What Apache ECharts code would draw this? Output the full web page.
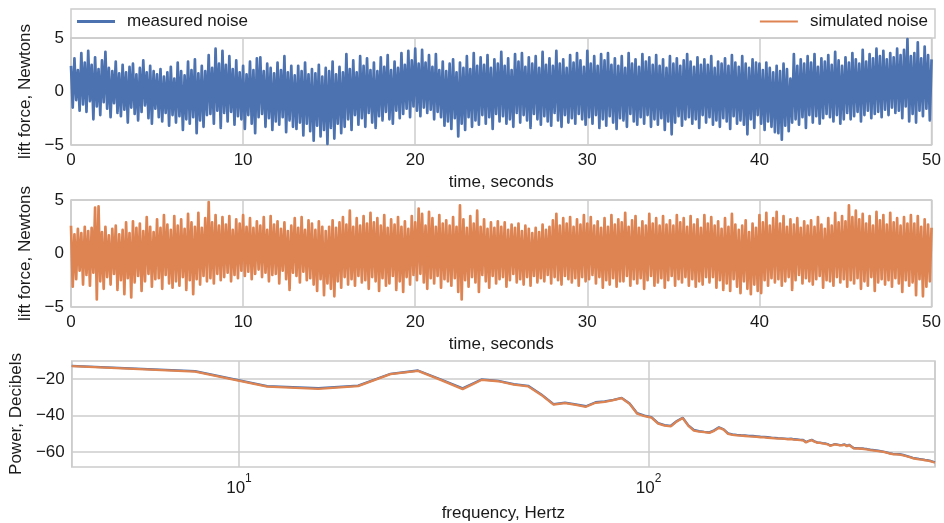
<!DOCTYPE html>
<html>
<head>
<meta charset="utf-8">
<script src="https://cdn.jsdelivr.net/npm/echarts@6/dist/echarts.min.js"></script>
<style>html,body{margin:0;padding:0;background:#fff}#c{width:944px;height:523px}</style>
</head>
<body>
<div id="c"></div>
<script>
// ---- data ----
const noiseStep = 0.1; // seconds between the values below
const measuredNoise = [
2.4,-1.5,3.1,-0.8,2.0,-1.8,3.6,-1.2,2.7,-1.9,
3.8,-0.9,2.5,-2.6,3.2,-1.4,2.1,-2.2,2.9,-1.0,
3.7,-1.6,2.2,-2.4,1.9,-1.1,2.8,-2.0,1.7,-2.3,
2.5,-1.7,1.8,-2.9,2.3,-1.5,2.6,-2.1,1.6,-2.7,
2.2,-1.9,2.9,-1.3,1.8,-2.5,2.4,-3.0,1.9,-1.6,
1.6,-2.4,2.1,-2.8,1.4,-2.0,1.8,-3.2,2.3,-2.2,
1.2,-2.9,2.7,-2.3,1.9,-3.6,1.5,-2.6,2.8,-3.0,
2.0,-2.4,3.0,-3.9,1.7,-2.7,2.4,-3.3,1.9,-2.2,
3.4,-2.1,2.2,-3.0,4.0,-1.8,2.6,-3.4,3.8,-2.0,
2.5,-2.8,3.3,-1.9,2.1,-3.1,2.9,-2.3,1.8,-2.6,
2.4,-3.5,1.6,-2.2,2.8,-3.0,2.0,-3.9,3.1,-2.4,
3.2,-2.1,1.9,-3.3,2.6,-2.5,2.2,-3.6,1.7,-2.8,
2.7,-3.1,2.0,-2.4,3.3,-3.8,1.8,-2.7,2.4,-3.3,
1.5,-3.5,2.4,-2.9,1.9,-4.1,2.7,-3.0,1.6,-3.7,
2.1,-4.6,1.7,-3.2,2.5,-4.2,1.4,-3.6,2.2,-4.9,
1.9,-3.4,2.8,-4.4,1.6,-3.0,2.3,-3.9,1.8,-3.3,
3.5,-2.6,2.1,-3.6,2.9,-2.2,1.8,-3.1,3.3,-2.5,
2.4,-3.3,3.1,-2.0,2.0,-2.9,2.7,-3.4,1.9,-2.3,
3.2,-2.7,2.3,-1.9,3.4,-2.6,2.0,-3.0,2.8,-1.8,
2.2,-2.5,3.6,-2.1,2.5,-1.6,3.8,-2.4,2.9,-1.4,
4.0,-1.8,2.6,-2.3,3.9,-1.5,2.7,-2.0,3.4,-1.7,
2.3,-2.6,3.5,-1.9,2.0,-2.4,2.8,-3.2,1.9,-2.8,
2.6,-3.5,3.0,-2.5,1.8,-4.2,2.7,-3.0,2.2,-3.6,
3.3,-2.4,2.1,-3.3,3.6,-2.7,2.4,-3.1,3.2,-2.2,
2.5,-3.0,3.4,-2.4,2.2,-3.5,3.0,-2.1,2.6,-2.8,
3.7,-2.3,2.4,-3.0,3.1,-2.6,2.0,-3.3,3.5,-2.0,
2.8,-2.9,3.6,-2.2,2.3,-2.7,3.2,-3.4,2.6,-2.1,
3.3,-2.6,2.2,-3.1,3.7,-2.3,2.5,-2.8,3.1,-3.2,
2.4,-2.0,3.8,-2.7,2.6,-3.3,3.0,-2.2,2.2,-2.9,
3.4,-2.5,2.7,-3.0,3.6,-2.1,2.9,-2.6,2.3,-3.1,
3.8,-2.4,2.6,-3.0,3.3,-2.2,2.4,-3.4,3.5,-2.6,
2.9,-3.2,3.6,-2.3,2.5,-2.9,3.1,-3.5,2.4,-2.5,
3.3,-2.7,2.2,-3.3,3.6,-2.1,2.6,-2.8,3.0,-3.1,
2.3,-2.4,3.5,-3.0,2.8,-2.2,3.2,-3.3,2.5,-2.6,
3.4,-3.1,2.4,-2.5,3.0,-3.6,2.2,-2.8,3.3,-4.0,
2.6,-2.9,3.1,-2.3,2.4,-3.2,2.9,-2.6,3.5,-2.4,
2.8,-3.0,2.3,-2.6,3.2,-3.4,2.5,-2.2,3.0,-2.9,
2.5,-2.4,3.3,-3.1,2.2,-2.7,2.8,-3.3,2.6,-2.5,
3.1,-2.8,2.4,-3.5,3.4,-2.3,2.7,-3.0,2.3,-2.7,
3.3,-3.1,2.6,-4.0,2.2,-2.6,3.0,-3.4,2.7,-2.2,
2.6,-3.0,2.0,-3.6,2.7,-2.8,2.2,-3.3,1.8,-3.8,
2.4,-3.9,1.9,-4.5,2.6,-3.2,2.1,-3.7,1.2,-2.9,
3.5,-2.6,2.4,-3.1,3.0,-2.4,2.6,-3.4,3.3,-2.2,
2.7,-2.9,3.5,-2.3,2.3,-3.0,3.1,-2.5,2.8,-2.1,
3.4,-2.4,2.5,-2.8,3.7,-2.2,2.9,-3.0,2.4,-2.6,
3.2,-2.0,2.7,-2.6,3.6,-2.3,3.0,-1.9,2.6,-2.8,
3.9,-2.2,2.8,-1.8,3.5,-2.5,3.1,-2.1,4.0,-1.9,
3.3,-2.4,3.8,-1.7,3.0,-2.2,3.6,-1.5,3.2,-2.0,
4.0,-1.8,3.4,-2.5,3.9,-1.4,4.9,-2.8,3.3,-2.1,
3.6,-2.9,4.6,-1.8,3.1,-2.3,4.2,-1.6,3.4,-2.7,
3.0
];
const simulatedNoise = [
2.6,-3.1,1.8,-2.4,2.3,-1.6,1.9,-2.9,2.5,-2.0,
2.1,-3.0,2.4,-1.8,4.3,-4.3,4.4,-2.6,2.0,-3.3,
2.5,-2.2,1.7,-2.9,2.3,-1.9,2.6,-3.4,1.8,-2.5,
2.2,-3.8,2.9,-2.3,1.9,-4.1,3.0,-2.7,2.4,-2.1,
2.8,-3.5,2.1,-2.6,3.4,-1.9,2.5,-3.1,2.0,-2.4,
3.2,-2.3,2.4,-3.3,3.6,-2.0,2.7,-2.8,2.2,-3.2,
3.5,-2.6,2.6,-3.0,3.2,-2.2,2.3,-3.4,3.7,-2.5,
2.9,-3.8,2.5,-2.4,3.8,-2.9,2.4,-2.1,3.3,-2.6,
4.8,-2.3,2.9,-2.8,3.6,-1.9,2.6,-2.5,3.4,-2.2,
2.7,-1.8,3.5,-2.6,2.2,-2.0,3.2,-2.3,2.8,-1.6,
3.6,-2.1,2.5,-1.7,3.3,-2.4,2.4,-1.9,3.0,-1.5,
2.6,-2.2,3.4,-1.8,2.2,-2.6,3.5,-2.0,2.7,-1.9,
3.0,-2.8,2.3,-1.6,2.9,-2.4,2.1,-3.4,2.6,-1.8,
3.3,-2.1,2.4,-2.7,3.4,-1.7,2.2,-2.5,3.1,-2.3,
2.8,-2.9,2.2,-3.5,3.0,-2.4,2.5,-3.9,2.1,-2.8,
2.5,-3.3,3.1,-4.0,2.4,-2.6,2.9,-3.2,3.4,-2.2,
2.7,-2.9,4.0,-2.4,2.5,-3.0,3.3,-2.1,2.6,-2.7,
3.5,-2.5,2.8,-3.3,3.8,-2.2,2.9,-2.6,3.3,-3.5,
2.6,-2.3,3.6,-3.0,2.4,-2.8,3.2,-2.1,2.7,-3.4,
3.4,-2.6,2.5,-3.6,3.0,-2.2,2.3,-2.9,3.5,-2.0,
2.9,-2.5,4.2,-1.9,3.7,-2.7,2.6,-3.3,3.9,-2.3,
3.3,-2.8,2.5,-2.1,3.6,-3.2,2.8,-2.4,3.1,-2.6,
2.6,-3.0,3.4,-2.3,2.5,-3.6,4.5,-4.3,3.2,-2.5,
2.4,-3.1,3.5,-2.2,2.8,-2.7,4.0,-3.6,2.5,-2.0,
3.2,-2.6,2.3,-3.2,2.9,-2.1,2.4,-2.8,3.0,-2.4,
2.5,-2.2,2.9,-3.1,2.2,-2.5,2.7,-1.9,2.4,-2.7,
2.8,-2.4,2.1,-2.9,2.6,-2.2,2.3,-3.0,1.9,-2.1,
2.4,-2.7,2.0,-2.3,2.7,-2.6,2.2,-2.0,2.5,-2.8,
3.1,-2.2,3.7,-2.5,2.6,-2.9,3.3,-2.1,2.8,-2.4,
3.4,-2.7,2.5,-2.3,3.2,-3.0,2.7,-2.2,3.6,-2.6,
2.8,-2.4,3.4,-2.0,2.6,-2.8,3.0,-2.2,2.4,-3.2,
3.3,-2.5,2.5,-2.9,3.6,-2.3,2.7,-3.1,3.2,-2.6,
2.9,-2.6,3.8,-2.1,2.5,-3.0,3.1,-2.4,3.5,-2.8,
2.4,-2.3,3.0,-3.3,2.6,-2.5,3.7,-2.1,2.8,-3.0,
3.3,-2.7,2.6,-2.3,3.5,-3.2,2.7,-2.5,3.1,-2.1,
2.6,-3.0,3.6,-2.4,2.9,-2.7,3.3,-2.2,2.5,-3.0,
3.5,-2.4,2.7,-3.1,3.2,-2.6,2.4,-2.9,3.6,-2.2,
2.8,-2.7,3.4,-2.2,2.6,-3.2,3.0,-2.5,2.3,-3.4,
3.3,-2.8,2.5,-3.5,3.7,-2.4,2.7,-3.1,2.2,-3.7,
2.6,-2.6,3.1,-3.3,2.0,-3.8,2.8,-2.9,2.4,-3.5,
3.6,-3.7,2.9,-2.5,3.8,-3.0,2.6,-2.3,3.3,-2.7,
3.9,-2.4,2.8,-3.0,3.5,-2.6,2.5,-2.2,3.2,-3.4,
2.7,-2.5,3.3,-2.0,2.4,-2.8,3.0,-2.3,2.6,-2.6,
3.1,-2.9,2.5,-2.4,3.4,-2.1,2.7,-3.2,2.3,-2.5,
3.3,-2.6,2.6,-3.0,3.8,-2.2,2.9,-2.7,3.5,-2.4,
3.0,-3.1,4.5,-2.5,3.4,-2.8,4.0,-2.3,3.2,-3.3,
3.7,-2.6,2.8,-3.0,3.5,-2.2,2.6,-3.5,3.9,-2.7,
3.1,-2.4,3.6,-2.9,2.7,-2.5,3.8,-3.1,2.9,-2.3,
3.3,-2.8,2.6,-3.6,3.4,-2.5,2.8,-3.0,3.6,-2.7,
2.8,-3.9,3.5,-2.4,2.5,-4.0,3.2,-3.1,2.7,-2.6,
2.4
];
const binWidth = 3.90625; // Hz between spectrum bins (first bin at binWidth)
const measuredPower = [
-12.9,-15.8,-24.0,-25.1,-23.7,-17.2,-15.4,-20.5,-25.2,-20.3,
-21.1,-22.9,-23.8,-28.5,-33.8,-33.0,-34.0,-35.0,-32.8,-32.3,
-31.5,-30.4,-33.5,-38.8,-40.1,-41.0,-44.2,-45.3,-45.7,-43.1,
-41.3,-45.5,-48.0,-48.6,-49.0,-49.3,-48.2,-46.5,-47.6,-49.9,
-50.4,-50.7,-50.9,-51.0,-51.2,-51.3,-51.5,-51.7,-51.8,-52.0,
-52.2,-52.3,-52.5,-52.6,-52.7,-52.9,-52.8,-53.1,-53.2,-53.4,
-53.5,-54.6,-53.9,-53.4,-54.2,-54.8,-54.9,-55.2,-55.4,-55.7,
-56.5,-56.1,-55.7,-56.0,-56.3,-56.2,-55.9,-56.7,-56.1,-57.0,
-57.9,-58.0,-57.9,-58.1,-58.1,-58.3,-58.4,-58.6,-58.8,-59.0,
-59.1,-59.3,-59.4,-59.5,-59.7,-59.9,-60.1,-60.3,-60.7,-61.2,
-61.1,-61.5,-61.2,-61.0,-61.3,-61.5,-61.7,-61.9,-62.2,-62.4,
-62.7,-63.0,-63.3,-63.4,-63.6,-63.7,-63.9,-64.0,-64.1,-64.2,
-64.4,-64.5,-64.6,-64.8,-65.0,-65.2,-65.5,-65.7
];
const simulatedPower = [
-13.0,-16.0,-24.3,-25.5,-24.0,-17.4,-15.6,-20.8,-25.6,-20.6,
-21.3,-23.2,-24.1,-28.8,-34.1,-33.3,-34.2,-35.3,-33.1,-32.6,
-31.7,-30.6,-33.7,-39.1,-40.4,-41.3,-44.5,-45.6,-46.0,-43.3,
-41.5,-45.8,-48.3,-48.9,-49.2,-49.6,-48.5,-46.8,-47.8,-50.2,
-50.7,-51.0,-51.1,-51.3,-51.5,-51.6,-51.8,-52.0,-52.1,-52.3,
-52.4,-52.6,-52.7,-52.8,-52.9,-53.1,-53.0,-53.3,-53.4,-53.6,
-53.7,-54.9,-54.1,-53.6,-54.4,-55.0,-55.1,-55.4,-55.6,-55.9,
-56.7,-56.3,-55.9,-56.2,-56.5,-56.4,-56.1,-56.9,-56.3,-57.2,
-58.1,-58.2,-58.1,-58.3,-58.3,-58.5,-58.6,-58.8,-59.0,-59.2,
-59.3,-59.5,-59.6,-59.7,-59.9,-60.1,-60.3,-60.5,-60.9,-61.4,
-61.3,-61.7,-61.4,-61.2,-61.5,-61.7,-61.9,-62.1,-62.4,-62.6,
-62.9,-63.2,-63.5,-63.6,-63.8,-63.9,-64.1,-64.2,-64.3,-64.4,
-64.6,-64.7,-64.8,-65.0,-65.2,-65.4,-65.7,-65.9
];
const timeRange = [0, 50];
const timeTickStep = 10;
const forceRange = [-5, 5];
const forceTickStep = 5;
const powerRange = [-68.3, -10.2];
const powerTicks = [-60, -40, -20];
const seriesNames = ['measured noise', 'simulated noise'];

// ---- styling ----
const FONT = "'Liberation Sans', Arial, Helvetica, sans-serif";
const TXT = '#1a1a1a';
const GRIDC = '#cccccc';
const BLUE = '#4c72b0';
const ORANGE = '#dd8452';
const minus = v => String(v).replace('-', '\u2212');

const noisePairs = arr => arr.map((v, i) => [+(i * noiseStep).toFixed(2), v]);
const powerPairs = arr => arr.map((v, i) => [(i + 1) * binWidth, v]);

const gridBase = {left: 71, right: 9, show: true, borderColor: GRIDC, borderWidth: 1.5, backgroundColor: 'rgba(0,0,0,0)'};
const splitLine = {show: true, lineStyle: {color: GRIDC, width: 1.5}};
const nameStyle = {fontSize: 17, color: TXT, fontFamily: FONT};

function timeAxis(gi) {
  return {
    gridIndex: gi, type: 'value', min: timeRange[0], max: timeRange[1], interval: timeTickStep,
    name: 'time, seconds', nameLocation: 'middle', nameGap: 29, nameTextStyle: nameStyle,
    axisLine: {show: false}, axisTick: {show: false},
    axisLabel: {fontSize: 17, color: TXT, fontFamily: FONT, margin: 7, formatter: minus},
    splitLine: splitLine
  };
}
function forceAxis(gi) {
  return {
    gridIndex: gi, type: 'value', min: forceRange[0], max: forceRange[1], interval: forceTickStep,
    name: 'lift force, Newtons', nameLocation: 'middle', nameGap: 30, nameTextStyle: nameStyle,
    axisLine: {show: false}, axisTick: {show: false},
    axisLabel: {fontSize: 17, color: TXT, fontFamily: FONT, margin: 7, formatter: minus},
    splitLine: splitLine
  };
}

const option = {
  animation: false,
  textStyle: {fontFamily: FONT},
  graphic: [{
    type: 'rect', z: 0,
    shape: {x: 71, y: 9, width: 864, height: 29},
    style: {fill: '#ffffff', stroke: GRIDC, lineWidth: 1.5}
  }],
  legend: [
    {
      data: [seriesNames[0]], left: 77, top: 13, padding: 0, icon: 'rect',
      itemWidth: 38, itemHeight: 3,
      textStyle: {fontSize: 17, color: TXT, fontFamily: FONT, padding: [0, 0, 0, 7]}
    },
    {
      data: [seriesNames[1]], right: 16, top: 13, padding: 0, icon: 'rect',
      itemWidth: 38, itemHeight: 2,
      textStyle: {fontSize: 17, color: TXT, fontFamily: FONT, padding: [0, 0, 0, 7]}
    }
  ],
  grid: [
    Object.assign({top: 38, height: 107}, gridBase),
    Object.assign({top: 200, height: 107}, gridBase),
    Object.assign({top: 361, height: 106}, gridBase)
  ],
  xAxis: [
    timeAxis(0),
    timeAxis(1),
    {
      gridIndex: 2, type: 'log', logBase: 10,
      min: binWidth, max: binWidth * measuredPower.length,
      name: 'frequency, Hertz', nameLocation: 'middle', nameGap: 38, nameTextStyle: nameStyle,
      axisLine: {show: false}, axisTick: {show: false},
      axisLabel: {
        margin: 6, color: TXT, fontFamily: FONT,
        formatter: v => {
          const l = Math.log10(v), e = Math.round(l);
          return Math.abs(l - e) < 1e-6 ? '{b|10}{s|' + e + '}' : '';
        },
        rich: {
          b: {fontSize: 17, color: TXT, fontFamily: FONT, verticalAlign: 'bottom'},
          s: {fontSize: 12, color: TXT, fontFamily: FONT, verticalAlign: 'bottom', padding: [0, 0, 12, 0]}
        }
      },
      splitLine: splitLine
    }
  ],
  yAxis: [
    forceAxis(0),
    forceAxis(1),
    {
      gridIndex: 2, type: 'value', min: powerRange[0], max: powerRange[1],
      name: 'Power, Decibels', nameLocation: 'middle', nameGap: 41, nameTextStyle: nameStyle,
      axisLine: {show: false},
      axisTick: {show: false, customValues: powerTicks},
      axisLabel: {fontSize: 17, color: TXT, fontFamily: FONT, margin: 7, formatter: minus, customValues: powerTicks},
      splitLine: splitLine
    }
  ],
  series: [
    {
      name: seriesNames[0], type: 'line', xAxisIndex: 0, yAxisIndex: 0,
      data: noisePairs(measuredNoise), showSymbol: false, symbol: 'none', sampling: 'none',
      itemStyle: {color: BLUE}, lineStyle: {color: BLUE, width: 2.7, join: 'round'}, z: 3
    },
    {
      name: seriesNames[1], type: 'line', xAxisIndex: 1, yAxisIndex: 1,
      data: noisePairs(simulatedNoise), showSymbol: false, symbol: 'none', sampling: 'none',
      itemStyle: {color: ORANGE}, lineStyle: {color: ORANGE, width: 2.7, join: 'round'}, z: 3
    },
    {
      name: 'measured spectrum', type: 'line', xAxisIndex: 2, yAxisIndex: 2,
      data: powerPairs(measuredPower), showSymbol: false, symbol: 'none',
      itemStyle: {color: BLUE}, lineStyle: {color: BLUE, width: 2.3}, z: 3
    },
    {
      name: 'simulated spectrum', type: 'line', xAxisIndex: 2, yAxisIndex: 2,
      data: powerPairs(simulatedPower), showSymbol: false, symbol: 'none',
      itemStyle: {color: ORANGE}, lineStyle: {color: ORANGE, width: 2.3}, z: 4
    }
  ]
};

const chart = echarts.init(document.getElementById('c'), null, {renderer: 'canvas'});
chart.setOption(option);
</script>
</body>
</html>
